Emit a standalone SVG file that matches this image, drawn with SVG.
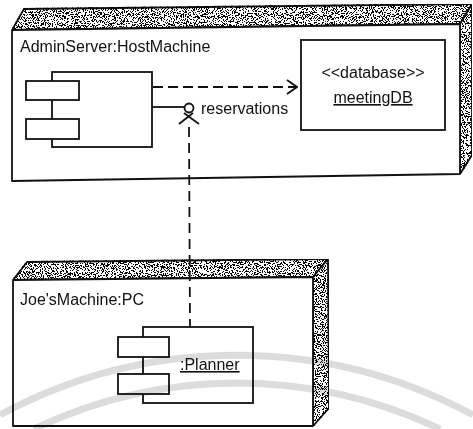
<svg xmlns="http://www.w3.org/2000/svg" width="473" height="429" viewBox="0 0 473 429">
<style>
  .edge{fill:#fff;stroke:#111;stroke-width:1.8;stroke-linejoin:round}
  .tex{fill:#fff;stroke:#111;stroke-width:1.8;stroke-linejoin:round;filter:url(#grain)}
  .box{fill:#fff;stroke:#111;stroke-width:1.8}
  .lbl{font-family:"Liberation Sans",Arial,Helvetica,sans-serif;font-size:16px;fill:#111}
  .ul{text-decoration:underline}
  .dash{fill:none;stroke:#111;stroke-width:1.8;stroke-dasharray:10,5}
  .line{fill:none;stroke:#111;stroke-width:1.8}
  .wm{fill:none;stroke:#dcdcdc;stroke-width:7;mix-blend-mode:multiply}
</style>
<defs>
  <filter id="grain" x="0" y="0" width="100%" height="100%" color-interpolation-filters="sRGB">
    <feTurbulence type="fractalNoise" baseFrequency="0.9" numOctaves="2" seed="7" result="t"/>
    <feColorMatrix in="t" type="matrix" values="0 0 0 0 0  0 0 0 0 0  0 0 0 0 0  6 0 0 0 -2.75" result="a"/>
    <feComponentTransfer in="a" result="b"><feFuncA type="discrete" tableValues="0 1"/></feComponentTransfer>
    <feComposite in="b" in2="SourceGraphic" operator="in" result="c"/>
    <feMerge><feMergeNode in="SourceGraphic"/><feMergeNode in="c"/></feMerge>
  </filter>
  <marker id="open" viewBox="0 0 12 16" refX="11" refY="8" markerWidth="12" markerHeight="16" markerUnits="userSpaceOnUse" orient="auto">
    <polyline points="1,1 11,8 1,15" fill="none" stroke="#111" stroke-width="1.8"/>
  </marker>
</defs>

<g id="adminServer">
  <polygon class="tex" points="12,30 24,9 472,4 460,24"/>
  <polygon class="tex" points="460,24 472,4 472,155 460,174"/>
  <polygon class="edge" points="12,30 460,24 460,174 12,181"/>
  <text class="lbl" x="20" y="52">AdminServer:HostMachine</text>
</g>

<g id="adminComponent">
  <rect class="box" x="52" y="72" width="100" height="75"/>
  <rect class="box" x="26" y="81" width="53" height="19"/>
  <rect class="box" x="26" y="119" width="53" height="20"/>
</g>

<g id="meetingDB">
  <rect class="box" x="301" y="40" width="144" height="90"/>
  <text class="lbl" x="373" y="78" text-anchor="middle">&lt;&lt;database&gt;&gt;</text>
  <text class="lbl ul" x="373" y="103" text-anchor="middle">meetingDB</text>
</g>

<g id="joesMachine">
  <polygon class="tex" points="13,280 27,262 328,259 313,277"/>
  <polygon class="tex" points="313,277 328,259 329,408 313,426"/>
  <polygon class="edge" points="13,280 313,277 313,426 13,426"/>
  <text class="lbl" x="20" y="305">Joe'sMachine:PC</text>
</g>

<g id="planner">
  <rect class="box" x="143" y="327" width="110" height="76"/>
  <rect class="box" x="118" y="337" width="51" height="20"/>
  <rect class="box" x="118" y="374" width="51" height="20"/>
  <text class="lbl ul" x="180" y="370">:Planner</text>
</g>

<g id="connectors">
  <line class="dash" x1="153" y1="87" x2="297" y2="87" marker-end="url(#open)"/>
  <line class="line" x1="152" y1="107" x2="184" y2="107"/>
  <g id="reservations">
    <circle cx="189" cy="108" r="4.5" fill="#fff" stroke="#111" stroke-width="1.8"/>
    <path class="line" d="M179,124 L193,113 M184,113 L199,124"/>
    <text class="lbl" x="201" y="114">reservations</text>
  </g>
  <line class="dash" x1="189" y1="127" x2="190" y2="327" style="stroke-dasharray:10,6"/>
</g>

<g id="watermark">
  <path class="wm" d="M0,415 A498,498 0 0 1 473,415"/>
  <path class="wm" d="M34,429 A470,470 0 0 1 440,429"/>
</g>
</svg>
